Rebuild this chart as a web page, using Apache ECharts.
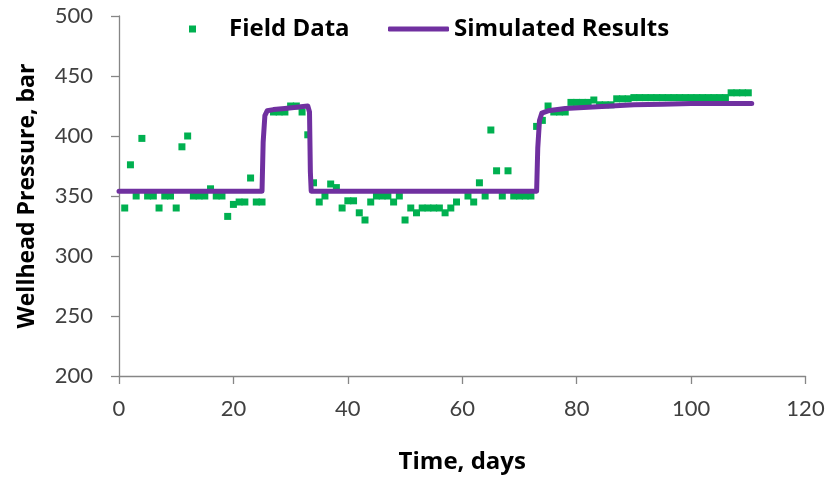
<!DOCTYPE html>
<html>
<head>
<meta charset="utf-8">
<script src="https://cdn.jsdelivr.net/npm/echarts@6/dist/echarts.min.js"></script>
<style>
html,body{margin:0;padding:0;background:#fff;}
#chart{width:830px;height:479px;}
</style>
</head>
<body>
<div id="chart"></div>
<script>
// Field data (days, bar)
const fieldDays = [1,2,3,4,5,6,7,8,9,10,11,12,13,14,15,16,17,18,19,20,21,22,23,24,25,
  27,28,29,30,31,32,33,
  34,35,36,37,38,39,40,41,42,43,44,45,46,47,48,49,50,51,52,53,54,55,56,57,58,59,61,62,63,64,65,66,67,68,69,70,71,72,
  73,74,75,76,77,78,79,80,81,82,83,84,85,86,87,88,89,90,91,92,93,94,95,96,97,98,99,100,101,102,103,104,105,106,107,108,109,110];
const fieldPressure = [340,376,350,398,350,350,340,350,350,340,391,400,350,350,350,356,350,350,333,343,345,345,365,345,345,
  420,420,420,425,425,420,401,
  361,345,350,360,357,340,346,346,336,330,345,350,350,350,345,350,330,340,336,340,340,340,340,336,340,345,350,345,361,350,405,371,350,371,350,350,350,350,
  408,413,425,420,420,420,428,428,428,428,430,426,426,426,431,431,431,432,432,432,432,432,432,432,432,432,432,432,432,432,432,432,432,432,436,436,436,436];

// Simulated results (days, bar)
const simDays = [0,25,25.2,25.5,25.9,27,29,31,33,33.3,33.45,33.6,73,73.2,73.5,73.9,75,78,82,86,90,95,100,105,110.6];
const simPressure = [354,354,395,417,421,422,423,424,425,420,370,354,354,390,413,419,421,423,424,425,426,426.5,427,427,427];

// Axis ticks
const xTicks = {min:0, max:120, interval:20};
const yTicks = {min:200, max:500, interval:50};

const FONT = 'Lato';
const BOLD = 'Open Sans';
const chart = echarts.init(document.getElementById('chart'), null, {renderer:'canvas'});
chart.setOption({
  animation:false,
  backgroundColor:'#fff',
  grid:{left:119, right:24.5, top:16, bottom:101.5},
  legend:[
    {
      data:[{name:'Field Data', icon:'rect'}],
      left:189, top:17, padding:0,
      itemWidth:7, itemHeight:7,
      textStyle:{fontFamily:BOLD, fontSize:24, fontWeight:'bold', color:'#000', padding:[0,0,0,28]}
    },
    {
      data:[{name:'Simulated Results', icon:'roundRect'}],
      left:388, top:17, padding:0,
      itemWidth:61, itemHeight:5,
      textStyle:{fontFamily:BOLD, fontSize:24, fontWeight:'bold', color:'#000'}
    }
  ],
  xAxis:{
    type:'value', min:xTicks.min, max:xTicks.max, interval:xTicks.interval,
    name:'Time, days', nameLocation:'middle', nameGap:74,
    nameTextStyle:{fontFamily:BOLD, fontSize:24, fontWeight:'bold', color:'#000'},
    axisLine:{show:true, lineStyle:{color:'#868686', width:1.3}},
    axisTick:{show:true, inside:false, length:8, lineStyle:{color:'#868686', width:1.3}},
    axisLabel:{fontFamily:FONT, fontSize:22, color:'#404040', margin:22},
    splitLine:{show:false}
  },
  yAxis:{
    type:'value', min:yTicks.min, max:yTicks.max, interval:yTicks.interval,
    name:'Wellhead Pressure, bar', nameLocation:'middle', nameGap:80,
    nameTextStyle:{fontFamily:BOLD, fontSize:23, fontWeight:'bold', color:'#000'},
    axisLine:{show:true, lineStyle:{color:'#868686', width:1.3}},
    axisTick:{show:true, inside:false, length:8, lineStyle:{color:'#868686', width:1.3}},
    axisLabel:{fontFamily:FONT, fontSize:22, color:'#404040', margin:26},
    splitLine:{show:false}
  },
  series:[
    {
      name:'Field Data', type:'scatter', symbol:'rect', symbolSize:7,
      itemStyle:{color:'#00B050', opacity:1},
      data:fieldDays.map((d,i)=>[d, fieldPressure[i]]),
      z:2
    },
    {
      name:'Simulated Results', type:'line', symbol:'none', showSymbol:false,
      lineStyle:{color:'#7030A0', width:5, cap:'round', join:'round'},
      itemStyle:{color:'#7030A0'},
      data:simDays.map((d,i)=>[d, simPressure[i]]),
      z:3
    }
  ]
});
</script>
</body>
</html>
